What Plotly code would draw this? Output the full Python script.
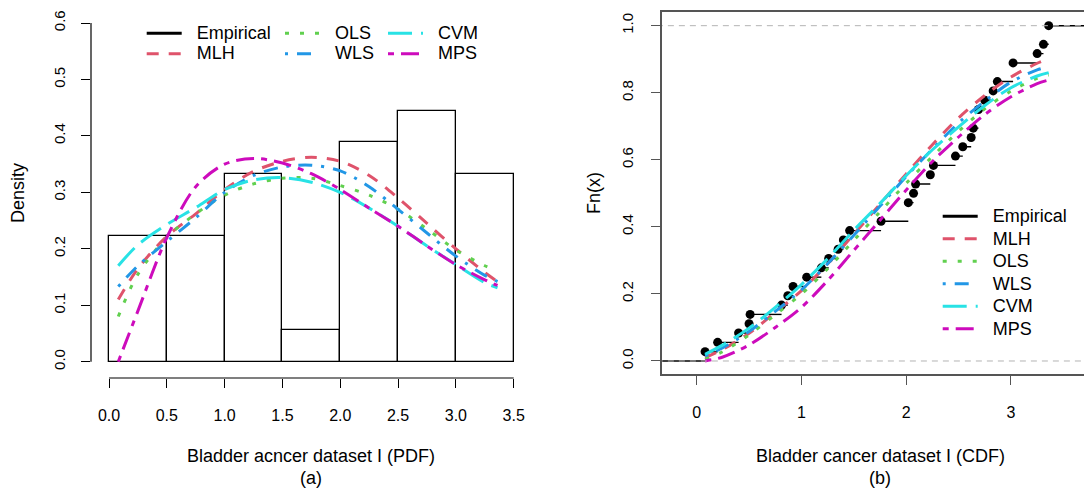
import numpy as np
import plotly.graph_objects as go

# ---------------- data ----------------
bladder = [0.08, 0.20, 0.40, 0.50, 0.51, 0.81, 0.87, 0.92, 1.05, 1.19, 1.26, 1.35,
           1.40, 1.46, 1.76, 2.02, 2.02, 2.07, 2.09, 2.23, 2.26, 2.47, 2.54, 2.62,
           2.64, 2.69, 2.69, 2.75, 2.83, 2.87, 3.02, 3.02, 3.25, 3.31, 3.36, 3.36]

grid = [0.08, 0.25, 0.5, 0.75, 1.0, 1.25, 1.5, 1.75, 2.0, 2.25, 2.5, 2.75, 3.0, 3.25, 3.36]

pdf_mlh = [0.110, 0.165, 0.222, 0.262, 0.305, 0.337, 0.355, 0.362, 0.355, 0.330, 0.290, 0.245, 0.200, 0.158, 0.142]
pdf_ols = [0.080, 0.155, 0.220, 0.262, 0.295, 0.315, 0.325, 0.325, 0.312, 0.295, 0.270, 0.235, 0.198, 0.170, 0.160]
pdf_wls = [0.133, 0.170, 0.213, 0.255, 0.300, 0.330, 0.345, 0.348, 0.338, 0.310, 0.270, 0.228, 0.187, 0.153, 0.142]
pdf_cvm = [0.170, 0.207, 0.243, 0.273, 0.305, 0.322, 0.326, 0.318, 0.300, 0.272, 0.240, 0.205, 0.172, 0.140, 0.131]
pdf_mps = [0.000, 0.090, 0.220, 0.310, 0.350, 0.360, 0.352, 0.333, 0.305, 0.272, 0.240, 0.205, 0.172, 0.145, 0.135]

cdf_mlh = [0.010, 0.035, 0.083, 0.145, 0.210, 0.290, 0.378, 0.468, 0.558, 0.645, 0.725, 0.792, 0.847, 0.888, 0.902]
cdf_ols = [0.005, 0.028, 0.078, 0.138, 0.200, 0.275, 0.360, 0.445, 0.530, 0.610, 0.685, 0.752, 0.805, 0.843, 0.853]
cdf_wls = [0.015, 0.040, 0.088, 0.148, 0.212, 0.290, 0.375, 0.462, 0.550, 0.632, 0.710, 0.775, 0.832, 0.868, 0.878]
cdf_cvm = [0.020, 0.048, 0.098, 0.160, 0.228, 0.305, 0.390, 0.470, 0.553, 0.630, 0.698, 0.762, 0.815, 0.850, 0.860]
cdf_mps = [0.000, 0.012, 0.048, 0.100, 0.160, 0.240, 0.330, 0.420, 0.510, 0.595, 0.668, 0.735, 0.788, 0.827, 0.838]

hist_breaks = [0.0, 0.5, 1.0, 1.5, 2.0, 2.5, 3.0, 3.5]

xa_ticks = [0.0, 0.5, 1.0, 1.5, 2.0, 2.5, 3.0, 3.5]
xa_labels = ["0.0", "0.5", "1.0", "1.5", "2.0", "2.5", "3.0", "3.5"]
ya_ticks = [0.0, 0.1, 0.2, 0.3, 0.4, 0.5, 0.6]
ya_labels = ["0.0", "0.1", "0.2", "0.3", "0.4", "0.5", "0.6"]
xb_ticks = [0, 1, 2, 3]
xb_labels = ["0", "1", "2", "3"]
yb_ticks = [0.0, 0.2, 0.4, 0.6, 0.8, 1.0]
yb_labels = ["0.0", "0.2", "0.4", "0.6", "0.8", "1.0"]

methods = ["MLH", "OLS", "WLS", "CVM", "MPS"]
pdfs = {"MLH": pdf_mlh, "OLS": pdf_ols, "WLS": pdf_wls, "CVM": pdf_cvm, "MPS": pdf_mps}
cdfs = {"MLH": cdf_mlh, "OLS": cdf_ols, "WLS": cdf_wls, "CVM": cdf_cvm, "MPS": cdf_mps}

# ---------------- styles ----------------
FONT = "Liberation Sans, Arial, sans-serif"
colors = {"MLH": "#DF536B", "OLS": "#61D04F", "WLS": "#2297E6", "CVM": "#28E2E5", "MPS": "#CD0BBC"}
dashes = {"MLH": "12px,10px", "OLS": "4px,11px", "WLS": "3px,9px,14px,9px",
          "CVM": "24px,9px", "MPS": "6px,7px,18px,7px"}
LW = 3
W, H = 1084, 488


def px_x(p):
    return p / W


def px_y(p):
    return 1 - p / H


def legtext(t):
    return '<span style="font-size:18px">&nbsp;&nbsp;' + t + '</span>'


fig = go.Figure()

# ---------------- left panel: histogram + densities ----------------
data = np.array(bladder)
edges = np.array(hist_breaks)
idx = np.clip(np.searchsorted(edges, data, side="left") - 1, 0, len(edges) - 2)
counts = np.bincount(idx, minlength=len(edges) - 1)
widths = np.diff(edges)
density = counts / (len(data) * widths)
centers = edges[:-1] + widths / 2

fig.add_trace(go.Bar(x=centers, y=density, width=widths,
                     marker=dict(color="white", line=dict(color="black", width=1.3)),
                     showlegend=False, xaxis="x", yaxis="y", hoverinfo="skip"))

left_legend_of = {"MLH": "legend", "OLS": "legend2", "WLS": "legend2", "CVM": "legend3", "MPS": "legend3"}

# dummy legend entry for Empirical (left legend)
fig.add_trace(go.Scatter(x=[None], y=[None], mode="lines", name=legtext("Empirical"),
                         line=dict(color="black", width=LW), legend="legend",
                         xaxis="x", yaxis="y"))
for m in methods:
    fig.add_trace(go.Scatter(x=grid, y=pdfs[m], mode="lines", name=legtext(m),
                             line=dict(color=colors[m], width=LW, dash=dashes[m],
                                       shape="spline", smoothing=0.9),
                             legend=left_legend_of[m], xaxis="x", yaxis="y"))

# ---------------- right panel: ECDF + CDFs ----------------
ux, uc = np.unique(data, return_counts=True)
uy = np.cumsum(uc) / len(data)
seg_x, seg_y = [-5.0, float(ux[0]), None], [0.0, 0.0, None]
for i in range(len(ux)):
    nxt = float(ux[i + 1]) if i + 1 < len(ux) else 10.0
    seg_x += [float(ux[i]), nxt, None]
    seg_y += [float(uy[i]), float(uy[i]), None]

fig.add_trace(go.Scatter(x=seg_x, y=seg_y, mode="lines", line=dict(color="black", width=1.4),
                         showlegend=False, xaxis="x2", yaxis="y2", hoverinfo="skip"))
fig.add_trace(go.Scatter(x=ux, y=uy, mode="markers", marker=dict(color="black", size=9),
                         showlegend=False, xaxis="x2", yaxis="y2"))

fig.add_trace(go.Scatter(x=[None], y=[None], mode="lines", name=legtext("Empirical"),
                         line=dict(color="black", width=LW), legend="legend4",
                         xaxis="x2", yaxis="y2"))
for m in methods:
    fig.add_trace(go.Scatter(x=grid, y=cdfs[m], mode="lines", name=legtext(m),
                             line=dict(color=colors[m], width=LW, dash=dashes[m],
                                       shape="spline", smoothing=0.9),
                             legend="legend4", xaxis="x2", yaxis="y2"))

for yv in [0.0, 1.0]:
    fig.add_trace(go.Scatter(x=[-5, 10], y=[yv, yv], mode="lines",
                             line=dict(color="#B3B3B3", width=1, dash="6px,5px"),
                             showlegend=False, xaxis="x2", yaxis="y2", hoverinfo="skip"))

# ---------------- axes ----------------
tickfont = dict(family=FONT, size=16, color="black")
ytickfont = dict(family=FONT, size=15, color="black")

xa_l, xa_r = 91, 530
ya_t, ya_b = 9, 378
xb_l, xb_r = 661.7, 1084
yb_t, yb_b = 11.7, 374

fig.update_layout(
    xaxis=dict(domain=[px_x(xa_l), px_x(xa_r)], range=[-0.1559, 3.6409],
               tickvals=xa_ticks, ticktext=xa_labels, ticks="outside", ticklen=9,
               tickwidth=1.2, tickcolor="black", tickfont=tickfont, showline=False,
               showgrid=False, zeroline=False, ticklabelstandoff=14, anchor="y"),
    yaxis=dict(domain=[px_y(ya_b), px_y(ya_t)], range=[-0.02887, 0.62480],
               tickvals=ya_ticks, ticktext=ya_labels, ticks="outside", ticklen=9,
               tickwidth=1.2, tickcolor="black", tickfont=ytickfont, tickangle=-90,
               showline=False, showgrid=False, zeroline=False, ticklabelstandoff=10,
               anchor="x"),
    xaxis2=dict(domain=[px_x(xb_l), px_x(xb_r)], range=[-0.334, 3.697],
                tickvals=xb_ticks, ticktext=xb_labels, ticks="outside", ticklen=9,
                tickwidth=1.2, tickcolor="#555555", tickfont=tickfont, showline=True,
                linecolor="#555555", linewidth=1.5, mirror=True, showgrid=False,
                zeroline=False, ticklabelstandoff=14, anchor="y2"),
    yaxis2=dict(domain=[px_y(yb_b), px_y(yb_t)], range=[-0.0388, 1.0417],
                tickvals=yb_ticks, ticktext=yb_labels, ticks="outside", ticklen=9,
                tickwidth=1.2, tickcolor="#555555", tickfont=ytickfont, tickangle=-90,
                showline=True, linecolor="#555555", linewidth=1.5, mirror=False,
                showgrid=False, zeroline=False, ticklabelstandoff=12, anchor="x2"),
)

# R-style axis lines (spanning first to last tick) for the histogram panel
fig.add_shape(type="line", xref="x", yref="y domain", x0=0.0, x1=3.5, y0=0, y1=0,
              line=dict(color="black", width=1.2))
fig.add_shape(type="line", xref="x domain", yref="y", x0=0, x1=0, y0=0.0, y1=0.6,
              line=dict(color="black", width=1.2))

# ---------------- legends ----------------
leg_common = dict(bgcolor="rgba(0,0,0,0)", borderwidth=0, orientation="v",
                  xanchor="left", yanchor="top", itemwidth=35,
                  font=dict(family=FONT, size=13.5, color="black"),
                  itemclick=False, itemdoubleclick=False)
fig.update_layout(
    legend=dict(x=px_x(141.7), y=px_y(18), **leg_common),
    legend2=dict(x=px_x(280), y=px_y(18), **leg_common),
    legend3=dict(x=px_x(383), y=px_y(18), **leg_common),
    legend4=dict(x=px_x(937.7), y=px_y(200),
                 **{**leg_common, "font": dict(family=FONT, size=15, color="black")}),
)

# ---------------- titles ----------------
tfont = dict(family=FONT, size=18, color="black")
annots = [
    dict(text="Density", x=px_x(18), y=px_y(193), textangle=-90),
    dict(text="Fn(x)", x=px_x(594), y=px_y(193), textangle=-90),
    dict(text="Bladder acncer dataset I (PDF)", x=px_x(310.5), y=px_y(456)),
    dict(text="(a)", x=px_x(310.5), y=px_y(478)),
    dict(text="Bladder cancer dataset I (CDF)", x=px_x(880), y=px_y(456)),
    dict(text="(b)", x=px_x(880), y=px_y(478)),
]
for a in annots:
    fig.add_annotation(xref="paper", yref="paper", showarrow=False, font=tfont,
                       xanchor="center", yanchor="middle", **a)

fig.update_layout(width=W, height=H, margin=dict(l=0, r=0, t=0, b=0),
                  paper_bgcolor="white", plot_bgcolor="white", bargap=0,
                  font=dict(family=FONT, color="black"), showlegend=True)

fig.write_html("out.html")
